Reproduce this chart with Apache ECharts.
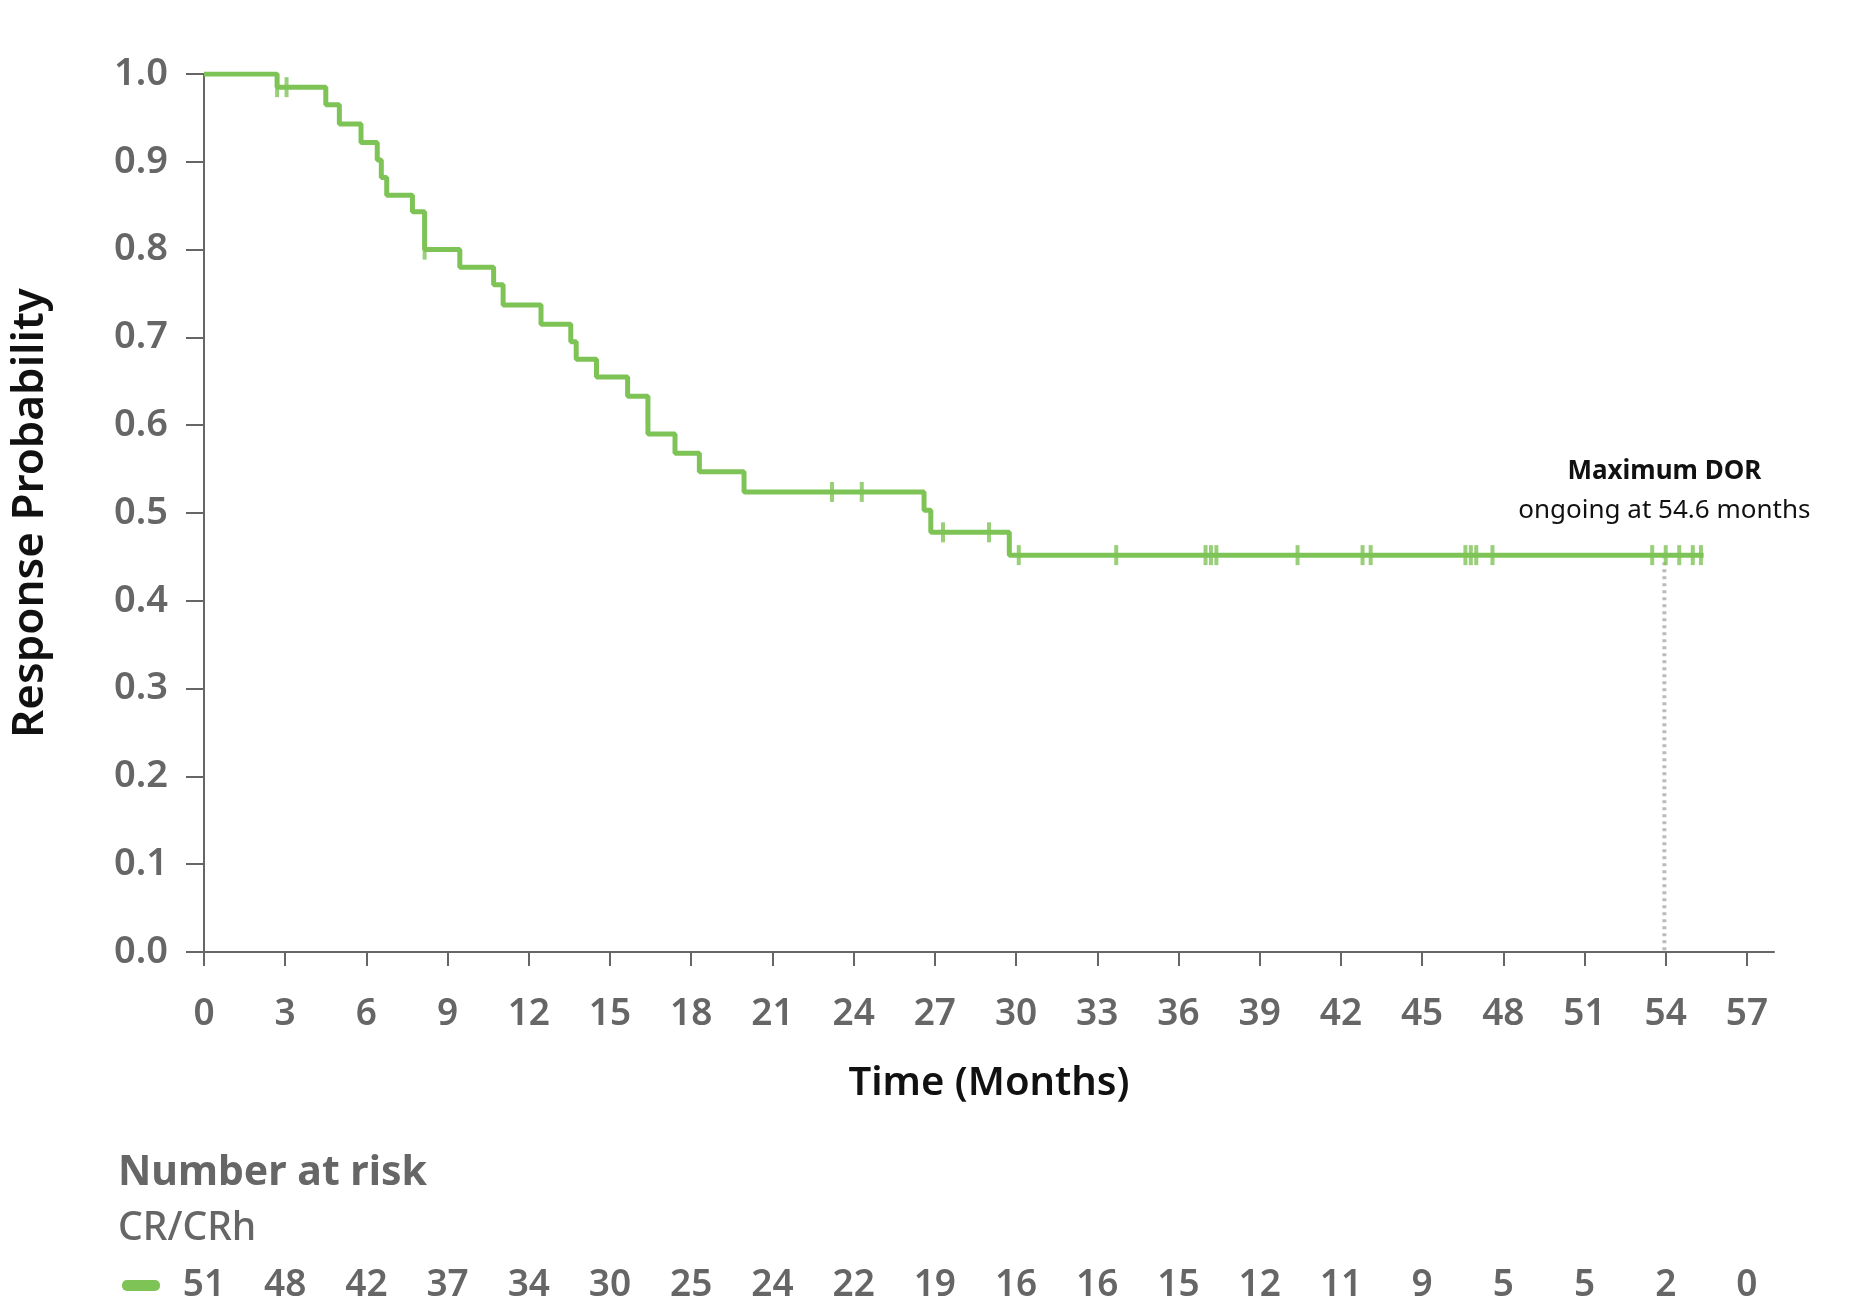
<!DOCTYPE html>
<html><head><meta charset="utf-8">
<script src="https://cdn.jsdelivr.net/npm/echarts@6/dist/echarts.min.js"></script>
<style>html,body{margin:0;padding:0;background:#fff}#c{width:1862px;height:1314px}</style>
</head><body><div id="c"></div>
<script>
// KM step points [month, probability]
const kmSteps = [[0,1.0],[2.7,0.985],[4.5,0.965],[5.0,0.943],[5.8,0.922],[6.4,0.902],[6.55,0.882],[6.75,0.862],[7.7,0.843],[8.15,0.80],[9.45,0.78],[10.7,0.76],[11.05,0.737],[12.45,0.715],[13.55,0.695],[13.75,0.675],[14.5,0.655],[15.65,0.633],[16.4,0.59],[17.4,0.568],[18.3,0.547],[19.95,0.524],[26.6,0.503],[26.85,0.478],[29.75,0.452],[55.4,0.452]];
const censorTimes = [2.7,3.05,8.15,16.4,23.2,24.3,27.3,29.0,30.1,33.7,37.0,37.2,37.4,40.4,42.8,43.1,46.6,46.8,47.0,47.6,53.5,54.0,54.5,55.0,55.3];
const censorProbs = [0.985,0.985,0.80,0.612,0.524,0.524,0.478,0.478,0.452,0.452,0.452,0.452,0.452,0.452,0.452,0.452,0.452,0.452,0.452,0.452,0.452,0.452,0.452,0.452,0.452];
const xTicks = [0,3,6,9,12,15,18,21,24,27,30,33,36,39,42,45,48,51,54,57];
const atRisk = [51,48,42,37,34,30,25,24,22,19,16,16,15,12,11,9,5,5,2,0];
const maxDor = 53.95;

const green = '#7ec356', grey = '#666666';
const font = '"Noto Sans", sans-serif';
const chart = echarts.init(document.getElementById('c'));
chart.setOption({
  animation:false,
  grid:{left:204,right:88,top:74,bottom:362},
  xAxis:{type:'value',min:0,max:58,
    name:'Time (Months)',nameLocation:'middle',nameGap:112,
    nameTextStyle:{color:'#111',fontSize:40,fontWeight:600,fontFamily:font},
    axisLine:{lineStyle:{color:grey,width:2}},
    axisTick:{show:true,length:14,lineStyle:{color:grey,width:2},customValues:xTicks},
    axisLabel:{color:grey,fontSize:37,fontWeight:600,fontFamily:font,margin:44,customValues:xTicks},
    splitLine:{show:false}},
  yAxis:{type:'value',min:0,max:1,interval:0.1,
    name:'Response Probability',nameLocation:'middle',nameGap:152,
    nameTextStyle:{color:'#111',fontSize:44,fontWeight:600,fontFamily:font},
    axisLine:{show:true,lineStyle:{color:grey,width:2}},
    axisTick:{show:true,length:18,lineStyle:{color:grey,width:2}},
    axisLabel:{color:grey,fontSize:38,fontWeight:600,fontFamily:font,margin:36,formatter:v=>v.toFixed(1)},
    splitLine:{show:false}},
  series:[
    {type:'line',step:'end',data:kmSteps,symbol:'none',lineStyle:{color:green,width:5}},
    {type:'scatter',data:censorTimes.map((t,i)=>[t,censorProbs[i]]),symbol:'rect',symbolSize:[4,20],itemStyle:{color:green}},
    {type:'line',data:[[maxDor,0.452],[maxDor,0]],symbol:'none',lineStyle:{color:'#bbbbbb',width:4,type:[3,4]},z:1}
  ]
});
const g = [];
xTicks.forEach((t,i)=>{
  const p = chart.convertToPixel({gridIndex:0},[t,0]);
  g.push({type:'text',x:p[0],y:1285,style:{text:String(atRisk[i]),fill:grey,font:'600 37px '+font,align:'center',verticalAlign:'middle'}});
});
g.push({type:'rect',shape:{x:122,y:1280,width:38,height:11,r:5},style:{fill:green}});
g.push({type:'text',x:118,y:1173,style:{text:'Number at risk',fill:grey,font:'700 41px '+font,verticalAlign:'middle'}});
g.push({type:'text',x:118,y:1229,style:{text:'CR/CRh',fill:grey,font:'500 39px '+font,verticalAlign:'middle'}});
const pd = chart.convertToPixel({gridIndex:0},[maxDor,0.452]);
g.push({type:'text',x:pd[0],y:472,style:{text:'Maximum DOR',fill:'#111',font:'700 26px '+font,align:'center',verticalAlign:'middle'}});
g.push({type:'text',x:pd[0],y:511,style:{text:'ongoing at 54.6 months',fill:'#111',font:'400 26px '+font,align:'center',verticalAlign:'middle'}});
chart.setOption({graphic:g});
</script></body></html>
